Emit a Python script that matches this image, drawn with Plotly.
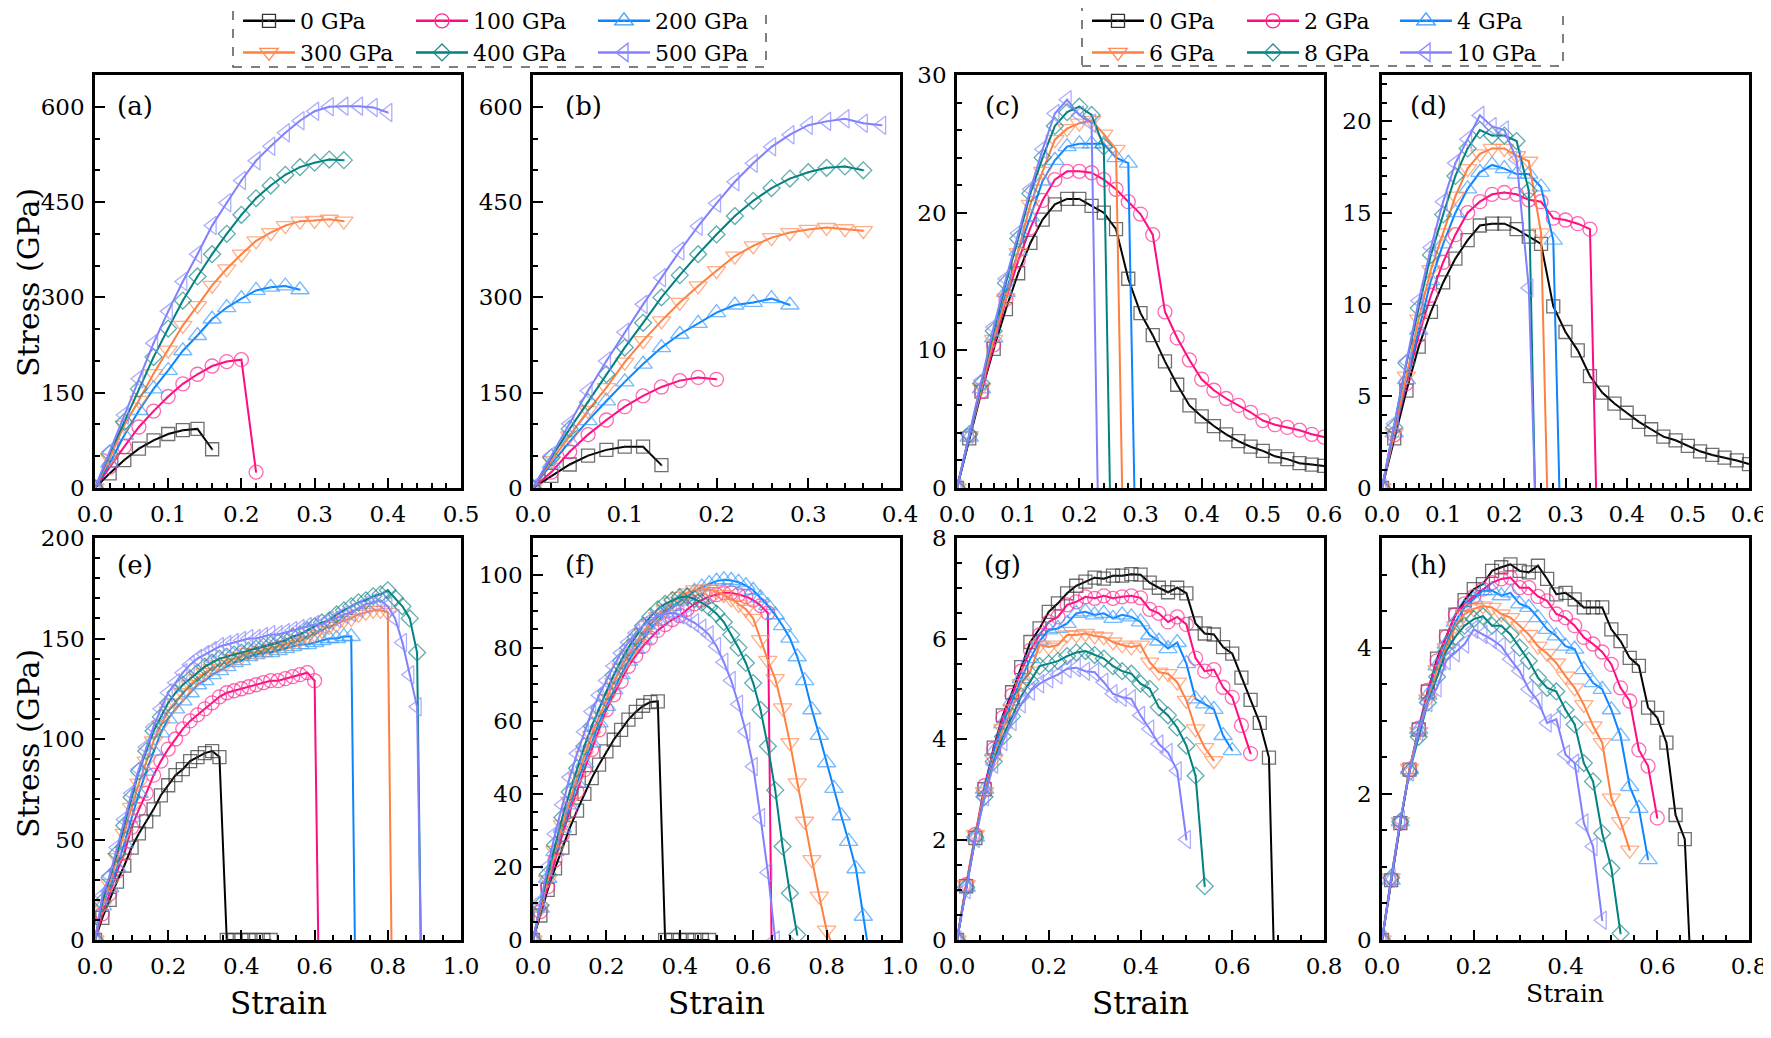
import plotly.graph_objects as go

# page size and the browser's default 8px body margin
PAGE_W, PAGE_H = 1771, 1038
OFF = 8
W, H = PAGE_W - OFF, PAGE_H - OFF
FONT = "DejaVu Serif"


def fx(px):
    return (px - OFF) / W


def fy(py):
    return 1 - (py - OFF) / H


# ---------------- data ----------------
strain = [0.00, 0.02, 0.04, 0.06, 0.08, 0.10, 0.12, 0.14, 0.16, 0.18,
          0.20, 0.22, 0.24, 0.26, 0.28, 0.30, 0.32, 0.34, 0.36, 0.38,
          0.40, 0.42, 0.44, 0.46, 0.48, 0.50, 0.52, 0.54, 0.56, 0.58,
          0.60, 0.62, 0.64, 0.66, 0.68, 0.70, 0.72, 0.74, 0.76, 0.78,
          0.80, 0.82, 0.84, 0.86, 0.88, 0.90]

labels_high = ["0 GPa", "100 GPa", "200 GPa", "300 GPa", "400 GPa", "500 GPa"]
labels_low = ["0 GPa", "2 GPa", "4 GPa", "6 GPa", "8 GPa", "10 GPa"]

# (a)
a0 = [0, 23, 44, 62, 75, 85, 91, 93, 61]
a100 = [0, 33, 65, 96, 121, 144, 164, 179, 192, 199, 202, 25]
a200 = [0, 39, 83, 122, 156, 185, 216, 240, 266, 284, 298, 311, 316, 318, 312]
a300 = [0, 47, 99, 138, 180, 217, 256, 287, 319, 345, 368, 389, 402, 413, 420, 421, 423, 420]
a400 = [0, 54, 104, 156, 206, 251, 295, 333, 368, 400, 430, 456, 476, 493, 505, 512, 517, 516]
a500 = [0, 57, 115, 172, 228, 278, 325, 368, 413, 449, 484, 515, 538, 559, 578, 593, 600, 601, 601, 599, 591]
# (b)
b0 = [0, 19, 37, 51, 60, 65, 65, 36]
b100 = [0, 25, 57, 84, 107, 128, 145, 159, 169, 174, 171]
b200 = [0, 38, 73, 106, 137, 167, 195, 221, 242, 259, 276, 288, 292, 298, 288]
b300 = [0, 43, 82, 122, 158, 198, 232, 263, 292, 318, 342, 365, 381, 394, 402, 407, 410, 408, 405]
b400 = [0, 48, 93, 135, 179, 221, 260, 300, 335, 368, 399, 428, 452, 472, 487, 497, 504, 506, 500]
b500 = [0, 51, 101, 153, 200, 245, 289, 331, 373, 412, 448, 482, 511, 537, 556, 571, 577, 581, 574, 571]
# (c)
c0 = [0, 3.6, 7.0, 10.1, 13.0, 15.6, 17.8, 19.5, 20.6, 21.0, 21.0, 20.5, 20.0, 18.8, 15.2, 12.7,
      11.1, 9.2, 7.5, 6.0, 5.2, 4.5, 3.9, 3.4, 3.0, 2.7, 2.3, 2.1, 1.8, 1.7, 1.6]
c2 = [0, 3.8, 7.0, 10.4, 13.7, 16.5, 18.9, 20.9, 22.4, 23.0, 23.0, 22.9, 22.4, 21.7, 20.8, 19.9,
      18.4, 12.8, 10.9, 9.3, 7.9, 7.1, 6.5, 6.0, 5.5, 4.9, 4.6, 4.4, 4.2, 3.9, 3.7]
c4 = [0, 3.7, 7.2, 10.9, 14.2, 17.2, 19.7, 22.3, 23.8, 24.8, 25.0, 25.0, 25.0, 24.0, 23.6]
c6 = [0, 3.8, 7.3, 10.8, 13.8, 17.1, 20.6, 23.0, 25.3, 26.1, 26.5, 26.7, 25.7, 24.6]
c8 = [0, 3.9, 7.6, 11.4, 14.9, 18.1, 21.4, 24.0, 26.3, 27.3, 27.7, 27.1, 24.8]
c10 = [0, 3.9, 7.8, 11.7, 15.2, 18.5, 21.7, 24.6, 27.2, 28.2, 27.1, 26.5]
# (d)
d0 = [0, 2.7, 5.3, 7.7, 9.6, 11.2, 12.5, 13.5, 14.3, 14.4, 14.4, 14.1, 13.7, 13.3, 9.9, 8.5,
      7.5, 6.1, 5.2, 4.6, 4.1, 3.6, 3.2, 2.8, 2.6, 2.3, 2.0, 1.8, 1.65, 1.5, 1.3]
d2 = [0, 2.9, 5.7, 8.3, 10.5, 12.3, 13.8, 15.0, 15.6, 16.0, 16.1, 16.0, 15.7, 15.6, 14.7, 14.6, 14.4, 14.1]
d4 = [0, 3.0, 5.9, 8.6, 11.3, 13.3, 15.0, 16.3, 17.2, 17.6, 17.4, 17.1, 17.1, 16.4, 13.5]
d6 = [0, 3.0, 6.1, 9.2, 11.9, 13.9, 15.9, 17.4, 18.2, 18.5, 18.5, 18.1, 17.8, 13.9]
d8 = [0, 3.3, 6.8, 9.8, 12.7, 14.9, 17.0, 18.5, 19.5, 19.2, 19.2, 18.9, 16.2]
d10 = [0, 3.5, 6.9, 10.2, 13.1, 15.6, 17.7, 19.0, 20.3, 19.7, 19.5, 17.9, 10.9]
# (e)
e0 = [0, 11, 20, 29, 37, 46, 53, 59, 65, 72, 77, 82, 85, 89, 91, 93, 94, 91, 0, 0, 0, 0, 0, 0, 0]
e100 = [0, 13, 23, 34, 43, 56, 65, 73, 82, 89, 95, 100, 105, 109, 112, 115, 118, 121, 123, 124,
        125, 126, 127, 128, 129, 129, 130, 131, 132, 133, 129]
e200 = [0, 17, 26, 36, 48, 61, 73, 84, 94, 103, 110, 115, 119, 123, 127, 129, 132, 134, 136, 138,
        139, 141, 142, 143, 143, 144, 145, 146, 147, 147, 148, 149, 150, 150, 151, 151]
e300 = [0, 17, 28, 41, 53, 66, 78, 89, 99, 107, 114, 118, 123, 127, 130, 133, 135, 137, 138, 140,
        141, 143, 143, 144, 145, 146, 147, 148, 149, 151, 152, 154, 156, 157, 159, 160, 162, 163,
        164, 164, 163]
e400 = [0, 19, 31, 43, 57, 71, 84, 94, 104, 111, 118, 123, 127, 130, 133, 136, 138, 140, 141, 142,
        143, 144, 145, 146, 147, 148, 149, 151, 152, 154, 156, 158, 159, 162, 164, 166, 168, 169,
        171, 172, 174, 170, 166, 160, 143]
e500 = [0, 22, 32, 46, 60, 73, 85, 96, 106, 115, 123, 128, 133, 137, 140, 142, 144, 146, 147, 148,
        149, 150, 150, 151, 152, 152, 153, 154, 155, 156, 157, 157, 159, 160, 162, 163, 165, 167,
        168, 169, 166, 160, 148, 132, 116]
# (f)
f0 = [0, 6.7, 13.7, 19.6, 25.3, 30.6, 35.4, 40.0, 44.3, 48.0, 51.6, 54.8, 57.5, 60.3, 62.4, 64.1,
      65.1, 65.3, 0, 0, 0, 0, 0, 0, 0]
f100 = [0, 7.8, 14.6, 21.9, 28.8, 35.2, 40.6, 46.6, 52.1, 57.5, 63.0, 67.1, 70.8, 74.9, 77.8, 80.4,
        82.6, 84.7, 86.3, 87.7, 88.8, 90.5, 92, 93, 94, 94.5, 95, 95, 94.5, 94, 93, 91.5, 89.5]
f200 = [0, 8.7, 16.9, 24.2, 30.6, 37, 42.9, 48.4, 53.9, 59.4, 63.9, 68.5, 72.6, 76.3, 79.5, 82.2,
        84.9, 87.2, 89.5, 91.3, 92.7, 94.1, 95.4, 96.6, 97.5, 98.2, 98.6, 98.4, 97.9, 97.0, 95.7,
        93.6, 91.5, 89.0, 86.0, 82.6, 77.5, 71, 63, 56, 48.5, 41.5, 34, 27, 19.5, 6.5]
f300 = [0, 8.5, 16.5, 24.5, 31.5, 38, 44.5, 50.5, 56, 61, 66, 70.5, 74.5, 78, 81, 84, 86.5, 88.5,
        90.5, 92.5, 94, 95, 95.8, 96, 96, 95.4, 94.5, 93.3, 91.8, 90.5, 88, 82.2, 76.5, 71.5, 63.5,
        54, 43, 32.5, 22, 12, 2.7]
f400 = [0, 9.5, 18, 26, 33.5, 40.5, 47, 53, 58.5, 63.5, 68, 72.5, 76.5, 80, 83, 86, 88.5, 90.5, 92,
        93, 93.8, 94, 93.3, 92.3, 91, 89.3, 87, 83.5, 80, 75.8, 70.3, 63, 53, 41, 25.6, 12.8, 1.4]
f500 = [0, 10.5, 20, 29, 37, 44.5, 51, 57, 62.5, 67, 71, 75, 78.5, 81.5, 84, 86, 87.5, 88.7, 89.3,
        89.5, 89, 88, 86.8, 85.3, 83.5, 80.4, 76, 71, 64.5, 57, 47.5, 33.5, 18.5, 0]
# (g)
g0 = [0, 1.07, 2.03, 3.0, 3.83, 4.47, 4.93, 5.43, 5.93, 6.2, 6.53, 6.7, 6.9, 7.05, 7.13, 7.21, 7.19,
      7.25, 7.25, 7.28, 7.27, 7.11, 7.01, 6.92, 7.01, 6.9, 6.3, 6.1, 6.08, 5.83, 5.7, 5.22, 4.78,
      4.32, 3.63]
g2 = [0, 1.1, 2.1, 3.07, 3.8, 4.43, 4.87, 5.35, 5.77, 6.07, 6.33, 6.43, 6.67, 6.73, 6.83, 6.8, 6.85,
      6.8, 6.83, 6.85, 6.81, 6.58, 6.5, 6.33, 6.43, 6.28, 5.61, 5.35, 5.38, 5.03, 4.83, 4.27, 3.71]
g4 = [0, 1.05, 2.05, 3.0, 3.75, 4.3, 4.75, 5.2, 5.6, 5.95, 6.17, 6.2, 6.3, 6.5, 6.53, 6.47, 6.5, 6.4,
      6.47, 6.43, 6.33, 6.07, 5.95, 5.8, 5.92, 5.5, 4.8, 4.7, 4.59, 4.07, 3.77]
g6 = [0, 1.1, 2.1, 2.95, 3.6, 4.2, 4.6, 5.1, 5.35, 5.87, 5.83, 5.87, 6.07, 6.07, 6.1, 6.05, 6.03,
      5.93, 5.87, 5.83, 5.87, 5.53, 5.33, 5.3, 5.13, 4.77, 4.2, 3.83, 3.57]
g8 = [0, 1.05, 2.05, 2.85, 3.55, 4.05, 4.45, 4.85, 5.15, 5.45, 5.5, 5.55, 5.65, 5.72, 5.75, 5.67,
      5.6, 5.45, 5.35, 5.3, 5.1, 5.0, 4.63, 4.47, 4.23, 3.87, 3.27, 1.07]
g10 = [0, 1.0, 2.02, 2.85, 3.5, 3.95, 4.35, 4.7, 4.95, 5.1, 5.2, 5.28, 5.4, 5.42, 5.35, 5.33, 5.13,
       4.9, 4.83, 4.8, 4.47, 4.2, 3.9, 3.73, 3.37, 2.0]
# (h)
h0 = [0, 0.82, 1.6, 2.33, 2.88, 3.4, 3.85, 4.15, 4.45, 4.65, 4.8, 4.87, 5.05, 5.1, 5.14, 5.05, 5.03,
      5.12, 4.94, 4.73, 4.75, 4.66, 4.55, 4.55, 4.55, 4.25, 4.09, 3.86, 3.75, 3.18, 3.04, 2.7, 1.71,
      1.38]
h2 = [0, 0.82, 1.6, 2.33, 2.9, 3.42, 3.82, 4.15, 4.45, 4.6, 4.7, 4.8, 4.89, 4.94, 4.96, 4.82, 4.82,
      4.7, 4.64, 4.46, 4.41, 4.3, 4.14, 4.05, 3.94, 3.77, 3.45, 3.27, 2.6, 2.38, 1.67]
h4 = [0, 0.82, 1.62, 2.33, 2.88, 3.35, 3.75, 4.05, 4.35, 4.55, 4.66, 4.78, 4.78, 4.71, 4.75, 4.6,
      4.55, 4.41, 4.25, 4.16, 4.02, 3.98, 3.7, 3.52, 3.43, 3.15, 2.79, 2.1, 1.8, 1.1]
h6 = [0, 0.85, 1.62, 2.35, 2.85, 3.3, 3.7, 4.0, 4.3, 4.46, 4.53, 4.57, 4.55, 4.46, 4.41, 4.3, 4.18,
      4.02, 3.92, 3.79, 3.61, 3.45, 3.22, 2.93, 2.7, 1.94, 1.62, 1.23]
h8 = [0, 0.85, 1.62, 2.3, 2.78, 3.25, 3.6, 3.95, 4.15, 4.3, 4.39, 4.43, 4.3, 4.3, 4.18, 4.0, 3.82,
      3.59, 3.45, 3.4, 3.15, 2.95, 2.42, 2.17, 1.46, 0.98, 0.09]
h10 = [0, 0.85, 1.65, 2.3, 2.85, 3.25, 3.45, 3.82, 3.93, 4.05, 4.25, 4.18, 4.11, 4.02, 3.84, 3.68,
       3.43, 3.27, 2.97, 3.02, 2.54, 2.42, 1.6, 1.28, 0.27]

# strain at which a curve falls to zero (fracture), None if it just ends
frac_a = [None, None, None, None, None, None]
frac_b = [None, None, None, None, None, None]
frac_c = [None, None, 0.29, 0.27, 0.25, 0.23]
frac_d = [None, 0.35, 0.29, 0.27, 0.25, 0.25]
frac_e = [None, 0.61, 0.71, 0.81, 0.89, 0.89]
frac_f = [None, 0.65, 0.91, 0.81, None, None]
frac_g = [0.69, None, None, None, None, None]
frac_h = [0.67, None, None, None, None, None]

# ---------------- styles ----------------
colors = ["#000000", "#ff0a80", "#0a84ff", "#ff7f40", "#008080", "#8080ff"]
mcolors = ["#333333", "#ff2a90", "#3a9cff", "#ff8c55", "#1a8a8a", "#8a8aff"]
symbols = ["square-open-dot", "circle-open-dot", "triangle-up-open-dot",
           "triangle-down-open-dot", "diamond-open-dot", "triangle-left-open-dot"]
msizes = [13, 14, 16, 16, 13, 16]

EPS = 1e-9
# boxes in page pixels: left, right, top, bottom
panels = [
    dict(key="a", box=(95, 461, 75, 488), xr=0.5, xd=0.1, xm=0.02, yr=650, yd=150, ym=50,
         series=[a0, a100, a200, a300, a400, a500], frac=frac_a, lab=(20, 31)),
    dict(key="b", box=(533, 900, 75, 488), xr=0.4, xd=0.1, xm=0.02, yr=650, yd=150, ym=50,
         series=[b0, b100, b200, b300, b400, b500], frac=frac_b, lab=(30, 31)),
    dict(key="c", box=(957, 1324, 75, 488), xr=0.6, xd=0.1, xm=0.02, yr=30, yd=10, ym=2,
         series=[c0, c2, c4, c6, c8, c10], frac=frac_c, lab=(26, 31)),
    dict(key="d", box=(1382, 1749, 75, 488), xr=0.6, xd=0.1, xm=0.02, yr=22.5, yd=5, ym=1,
         series=[d0, d2, d4, d6, d8, d10], frac=frac_d, lab=(26, 31)),
    dict(key="e", box=(95, 461, 538, 940), xr=1.0, xd=0.2, xm=0.05, yr=200, yd=50, ym=10,
         series=[e0, e100, e200, e300, e400, e500], frac=frac_e, lab=(20, 27)),
    dict(key="f", box=(533, 900, 538, 940), xr=1.0, xd=0.2, xm=0.05, yr=110, yd=20, ym=5,
         series=[f0, f100, f200, f300, f400, f500], frac=frac_f, lab=(30, 27)),
    dict(key="g", box=(957, 1324, 538, 940), xr=0.8, xd=0.2, xm=0.05, yr=8, yd=2, ym=0.5,
         series=[g0, g2, g4, g6, g8, g10], frac=frac_g, lab=(25, 27)),
    dict(key="h", box=(1382, 1749, 538, 940), xr=0.8, xd=0.2, xm=0.05, yr=5.5, yd=2, ym=0.5,
         series=[h0, h2, h4, h6, h8, h10], frac=frac_h, lab=(26, 27)),
]

fig = go.Figure()
layout = dict(width=W, height=H, margin=dict(l=0, r=0, t=0, b=0, autoexpand=False),
              paper_bgcolor="white", plot_bgcolor="white",
              font=dict(family=FONT, color="black"), annotations=[], shapes=[])

tickfont = dict(family=FONT, size=23, color="black")

for i, p in enumerate(panels):
    n = i + 1
    xa = "xaxis" if n == 1 else f"xaxis{n}"
    ya = "yaxis" if n == 1 else f"yaxis{n}"
    xr_ = "x" if n == 1 else f"x{n}"
    yr_ = "y" if n == 1 else f"y{n}"
    L, R, T, B = p["box"]
    common = dict(showline=True, mirror=True, linecolor="black", linewidth=2.5,
                  ticks="inside", ticklen=10, tickwidth=2, tickcolor="black",
                  showgrid=False, zeroline=False, tickfont=tickfont, automargin=False)
    layout[xa] = dict(domain=[fx(L), fx(R)], anchor=yr_, range=[0, p["xr"] + EPS],
                      tick0=0, dtick=p["xd"], tickformat=".1f", ticklabelstandoff=4,
                      minor=dict(dtick=p["xm"], ticks="inside", ticklen=5, tickwidth=1.5,
                                 tickcolor="black", showgrid=False), **common)
    layout[ya] = dict(domain=[fy(B), fy(T)], anchor=xr_, range=[0, p["yr"] + EPS],
                      tick0=0, dtick=p["yd"], ticklabelstandoff=3,
                      minor=dict(dtick=p["ym"], ticks="inside", ticklen=5, tickwidth=1.5,
                                 tickcolor="black", showgrid=False), **common)
    for k, vals in enumerate(p["series"]):
        m = len(vals)
        xs = list(strain[:m])
        ys = list(vals)
        sz = [msizes[k]] * m
        fr = p["frac"][k]
        if fr is not None:
            xs.append(fr)
            ys.append(0)
            sz.append(0)
        fig.add_trace(go.Scatter(
            x=xs, y=ys, xaxis=xr_, yaxis=yr_, mode="lines+markers",
            line=dict(color=colors[k], width=2),
            marker=dict(symbol=symbols[k], size=sz, color=mcolors[k],
                        line=dict(color=mcolors[k], width=1.3)),
            showlegend=False, hoverinfo="skip"))
    # panel label
    layout["annotations"].append(dict(
        text=f"({p['key']})", xref="paper", yref="paper",
        x=fx(L + p["lab"][0]), y=fy(T + p["lab"][1]),
        xanchor="left", yanchor="middle", showarrow=False,
        font=dict(family=FONT, size=26, color="black")))

# axis titles
for yc in (283, 744):
    layout["annotations"].append(dict(
        text="Stress (GPa)", xref="paper", yref="paper", x=fx(28), y=fy(yc),
        xanchor="center", yanchor="middle", textangle=-90, showarrow=False,
        font=dict(family=FONT, size=30, color="black")))
for xc, yc, fs in ((278, 1003, 31), (716, 1003, 31), (1140, 1003, 31), (1565, 993, 25)):
    layout["annotations"].append(dict(
        text="Strain", xref="paper", yref="paper", x=fx(xc), y=fy(yc),
        xanchor="center", yanchor="middle", showarrow=False,
        font=dict(family=FONT, size=fs, color="black")))

# legends: one vertical legend per column (page px of line start, page px of legend top)
legend_cols = [(243, 0, labels_high), (416, 0, labels_high), (598, 0, labels_high),
               (1092, 0, labels_low), (1247, 0, labels_low), (1400, 0, labels_low)]
for j, (xpx, ytop, labs) in enumerate(legend_cols):
    lname = "legend" if j == 0 else f"legend{j + 1}"
    col = j % 3
    for k in (col, col + 3):
        fig.add_trace(go.Scatter(
            x=[None], y=[None], mode="lines+markers", name=labs[k], legend=lname,
            line=dict(color=colors[k], width=2.5),
            marker=dict(symbol=symbols[k], size=msizes[k], color=mcolors[k],
                        line=dict(color=mcolors[k], width=1.3)),
            showlegend=True))
    layout[lname] = dict(x=fx(xpx - 5), y=fy(ytop), xanchor="left", yanchor="top",
                         orientation="v", bgcolor="rgba(0,0,0,0)", borderwidth=0,
                         font=dict(family=FONT, size=22, color="black"),
                         itemwidth=52, tracegroupgap=0, traceorder="normal")

# dashed legend frames (page px)
for (x0, y0, x1, y1) in ((233, 5, 766, 67), (1082, 2, 1563, 66)):
    layout["shapes"].append(dict(type="rect", xref="paper", yref="paper",
                                 x0=fx(x0), x1=fx(x1), y0=fy(y1), y1=fy(y0),
                                 line=dict(color="#555555", width=1.5, dash="dash"),
                                 fillcolor="rgba(0,0,0,0)"))

fig.update_layout(**layout)
fig.write_html("out.html")
